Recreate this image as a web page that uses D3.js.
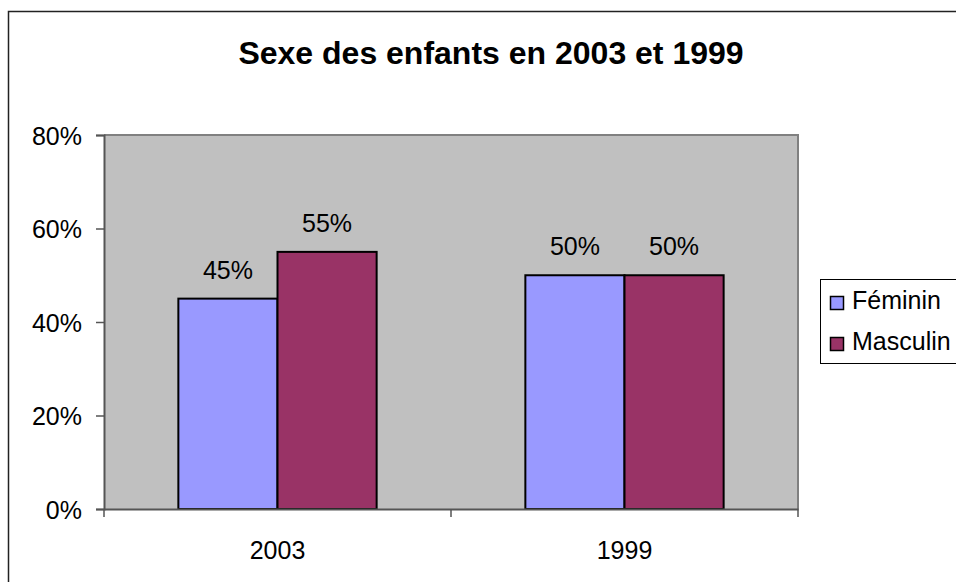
<!DOCTYPE html>
<html>
<head>
<meta charset="utf-8">
<script src="https://cdn.jsdelivr.net/npm/d3@7"></script>
<style>
  body { margin: 0; background: #fff; }
  svg { display: block; font-family: Arial, "Liberation Sans", sans-serif; }
</style>
</head>
<body>
<div id="graf"></div>
<script>
// Sexe des enfants - barres groupées

// donnees
annees   = ['2003', '1999']
series   = ['Féminin', 'Masculin']
feminin  = [0.45, 0.50]
masculin = [0.55, 0.50]
yTicks   = [0, 0.2, 0.4, 0.6, 0.8]
couleurs = ['#9999FF', '#993366']

valeurs = [feminin, masculin]

ancho_total = 956
alto_total  = 582

// zone du graphique
plot = { left: 104, top: 135, right: 798, bottom: 509 }

svg = d3.select('#graf').append('svg')
        .attr('width', ancho_total)
        .attr('height', alto_total)

// cadre extérieur (déborde à droite et en bas)
svg.append('rect')
  .attr('x', 8.5)
  .attr('y', 11.5)
  .attr('width', 1000)
  .attr('height', 1000)
  .attr('fill', '#fff')
  .attr('stroke', '#222')
  .attr('stroke-width', 1.5)

svg.append('text')
  .attr('x', 491)
  .attr('y', 64)
  .attr('text-anchor', 'middle')
  .attr('font-size', '32px')
  .attr('font-weight', 'bold')
  .text('Sexe des enfants en 2003 et 1999')

// escaladores
x0 = d3.scaleBand().domain(annees).range([plot.left, plot.right])
x1 = d3.scaleBand().domain(series).range([0, x0.bandwidth()])
        .paddingOuter(0.75).paddingInner(0)
y = d3.scaleLinear().domain([0, 0.8]).range([plot.bottom, plot.top])

// fond gris
svg.append('rect')
  .attr('x', plot.left)
  .attr('y', plot.top)
  .attr('width', plot.right - plot.left)
  .attr('height', plot.bottom - plot.top)
  .attr('fill', '#C0C0C0')

// bord haut et droit
svg.append('path')
  .attr('d', `M${plot.left},${plot.top}H${plot.right}V${plot.bottom}`)
  .attr('fill', 'none')
  .attr('stroke', '#808080')
  .attr('stroke-width', 2)

// barres
series.forEach((s, si) => {
  svg.append('g').selectAll('rect')
    .data(annees.map((a, i) => ({ annee: a, v: valeurs[si][i] })))
    .join('rect')
      .attr('x', d => x0(d.annee) + x1(s))
      .attr('y', d => y(d.v))
      .attr('width', x1.bandwidth())
      .attr('height', d => y(0) - y(d.v))
      .attr('fill', couleurs[si])
      .attr('stroke', '#000')
      .attr('stroke-width', 2)

  svg.append('g').selectAll('text')
    .data(annees.map((a, i) => ({ annee: a, v: valeurs[si][i] })))
    .join('text')
      .attr('x', d => x0(d.annee) + x1(s) + x1.bandwidth() / 2)
      .attr('y', d => y(d.v) - 20)
      .attr('text-anchor', 'middle')
      .attr('font-size', '25px')
      .attr('fill', '#000')
      .text(d => d3.format('.0%')(d.v))
})

// axe y
yAxis = d3.axisLeft(y)
          .tickValues(yTicks)
          .tickFormat(d3.format('.0%'))
          .tickSize(8)
          .tickPadding(14)
gy = svg.append('g')
        .attr('transform', `translate(${plot.left},0)`)
        .call(yAxis)
gy.select('.domain').attr('stroke', '#555').attr('stroke-width', 2)
gy.selectAll('.tick line').attr('stroke', '#555').attr('stroke-width', 1.5)
gy.selectAll('.tick text')
  .attr('font-size', '25px')
  .attr('font-family', 'Arial, "Liberation Sans", sans-serif')
  .attr('fill', '#000')
  .attr('dy', '0.36em')

// axe x
xAxis = d3.axisBottom(x0).tickSize(0).tickPadding(32)
gx = svg.append('g')
        .attr('transform', `translate(0,${plot.bottom})`)
        .call(xAxis)
gx.select('.domain').attr('stroke', '#555').attr('stroke-width', 2)
gx.selectAll('.tick text')
  .attr('font-size', '25px')
  .attr('font-family', 'Arial, "Liberation Sans", sans-serif')
  .attr('fill', '#000')
// graduations entre catégories
gx.selectAll('.sep')
  .data([plot.left, x0('1999'), plot.right])
  .join('line')
    .attr('x1', d => d).attr('x2', d => d)
    .attr('y1', 0).attr('y2', 8)
    .attr('stroke', '#555')
    .attr('stroke-width', 1.5)

// légende
leg = svg.append('g')
leg.append('rect')
  .attr('x', 820.5)
  .attr('y', 279.5)
  .attr('width', 200)
  .attr('height', 84)
  .attr('fill', '#fff')
  .attr('stroke', '#000')
  .attr('stroke-width', 1)

series.forEach((s, i) => {
  leg.append('rect')
    .attr('x', 830.5)
    .attr('y', 296.5 + i * 41)
    .attr('width', 13)
    .attr('height', 13)
    .attr('fill', couleurs[i])
    .attr('stroke', '#000')
    .attr('stroke-width', 1.5)
  leg.append('text')
    .attr('x', 852)
    .attr('y', 309 + i * 41)
    .attr('font-size', '25px')
    .attr('fill', '#000')
    .text(s)
})
</script>
</body>
</html>
